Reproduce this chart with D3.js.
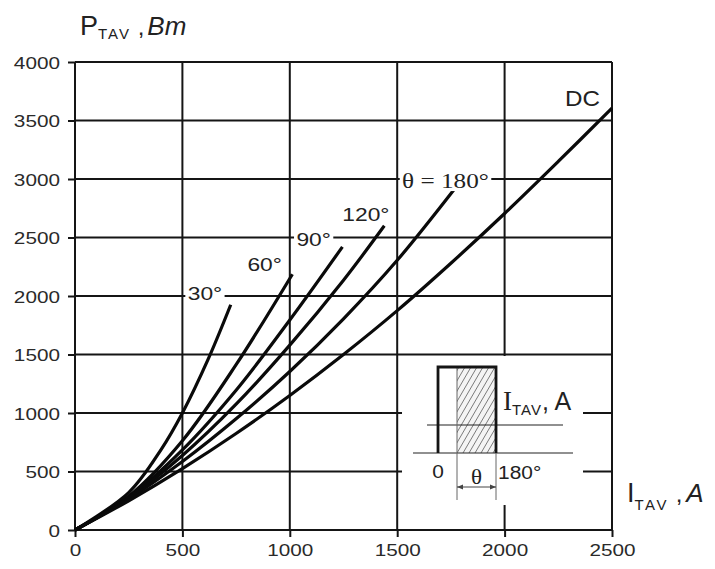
<!DOCTYPE html>
<html><head><meta charset="utf-8">
<script src="https://cdn.jsdelivr.net/npm/d3@7"></script>
<style>html,body{margin:0;padding:0;background:#fff}</style>
</head><body>
<svg id="c" width="715" height="569"></svg>
<script>
// ---- data ----
const xTicks = [0, 500, 1000, 1500, 2000, 2500];
const yTicks = [0, 500, 1000, 1500, 2000, 2500, 3000, 3500, 4000];
const seriesNames = ["30°", "60°", "90°", "120°", "θ = 180°", "DC"];
const curve30  = [[0,0],[250,320],[400,685],[500,1000],[620,1460],[725,1925]];
const curve60  = [[0,0],[250,288],[500,763],[750,1413],[1012,2186]];
const curve90  = [[0,0],[250,280],[500,685],[750,1195],[1000,1795],[1245,2420]];
const curve120 = [[0,0],[250,275],[500,637],[750,1075],[1000,1580],[1250,2135],[1440,2600]];
const curve180 = [[0,0],[250,265],[500,585],[750,950],[1000,1355],[1250,1805],[1500,2305],[1765,2910]];
const curveDC  = [[0,0],[250,250],[500,525],[750,825],[1000,1150],[1250,1500],[1500,1875],[1750,2280],[2000,2705],[2250,3150],[2500,3605]];
const curves = [curve30, curve60, curve90, curve120, curve180, curveDC];

// ---- layout ----
const SX = 1.22; // horizontal stretch of the glyphs in the original
const svg = d3.select("#c");
const x = d3.scaleLinear().domain([0, 2500]).range([75, 612]);
const y = d3.scaleLinear().domain([0, 4000]).range([530, 62]);
const INK = "#151515";

// gridlines
const grid = svg.append("g");
grid.selectAll("line.v").data(xTicks).join("line")
  .attr("x1", d => x(d)).attr("x2", d => x(d)).attr("y1", y(0)).attr("y2", y(4000))
  .attr("stroke", INK).attr("stroke-width", 2);
grid.selectAll("line.h").data(yTicks).join("line")
  .attr("x1", x(0)).attr("x2", x(2500)).attr("y1", d => y(d)).attr("y2", d => y(d))
  .attr("stroke", INK).attr("stroke-width", 2);

// axes
const yAx = svg.append("g").attr("transform", `translate(${x(0)},0)`)
  .call(d3.axisLeft(y).tickValues(yTicks).tickSize(7).tickFormat(d3.format("d")));
const xAx = svg.append("g").attr("transform", `translate(0,${y(0)})`)
  .call(d3.axisBottom(x).tickValues(xTicks).tickSize(7).tickFormat(d3.format("d")));
[yAx, xAx].forEach(g => {
  g.select(".domain").remove();
  g.selectAll(".tick line").attr("stroke", INK).attr("stroke-width", 2);
  g.selectAll(".tick text").attr("fill", "#2a2a2a")
    .style("font-family", "'Liberation Sans', Arial, sans-serif").style("font-size", "17px");
});
yAx.selectAll(".tick text").attr("x", 0).attr("dy", null)
  .attr("transform", `translate(-15,6) scale(${SX},1)`);
xAx.selectAll(".tick text").attr("y", 0).attr("dy", null)
  .attr("transform", `translate(0,26) scale(${SX},1)`);

// inset (white panel + pulse diagram), anchored in data units
const insetAnchor = [1690, 658];
const ix = x(insetAnchor[0]), iy = y(insetAnchor[1]);
const ins = svg.append("g").attr("transform", `translate(${ix},${iy})`);
ins.append("rect").attr("x", -36).attr("y", -97).attr("width", 181).attr("height", 149).attr("fill", "#fff");
const defs = svg.append("defs");
defs.append("clipPath").attr("id", "hclip").append("rect")
  .attr("x", 19).attr("y", -86).attr("width", 39).attr("height", 86);
const hatch = ins.append("g").attr("clip-path", "url(#hclip)");
hatch.append("rect").attr("x", 19).attr("y", -86).attr("width", 39).attr("height", 86).attr("fill", "#f4f4f4");
hatch.selectAll("line").data(d3.range(-10, 28)).join("line")
  .attr("x1", d => 19 + d * 6).attr("y1", 0).attr("x2", d => 19 + d * 6 + 50).attr("y2", -86)
  .attr("stroke", "#7a7a7a").attr("stroke-width", 1);
// thin lines
const thin = (x1, y1, x2, y2, w, c) => ins.append("line").attr("x1", x1).attr("y1", y1).attr("x2", x2).attr("y2", y2)
  .attr("stroke", c || "#333").attr("stroke-width", w || 1);
thin(-11, -28, 125, -28, 1.2, "#222");
thin(-25, 0, 135, 0, 1.2, "#222");
thin(19, -86, 19, 47, 1, "#666");
thin(58, 0, 58, 47, 1, "#666");
thin(19, 34, 58, 34, 1, "#444");
// arrow heads
ins.append("path").attr("d", "M19,34 l6,-2.5 v5 z M58,34 l-6,-2.5 v5 z").attr("fill", "#444");
// pulse outline
ins.append("path").attr("d", "M0,0 V-86 H58 V0").attr("fill", "none").attr("stroke", INK).attr("stroke-width", 2.8);
const insText = (tx, ty, str, size, fam, anchor) => ins.append("text")
  .attr("transform", `translate(${tx},${ty}) scale(1.1,1)`).attr("text-anchor", anchor || "start")
  .style("font-family", fam).style("font-size", size + "px").attr("fill", "#222").text(str);
insText(0, 25, "0", 19, "'Liberation Sans', Arial, sans-serif", "middle");
insText(38.5, 31, "θ", 21, "'Liberation Serif', 'Times New Roman', serif", "middle");
insText(60, 26, "180°", 19, "'Liberation Sans', Arial, sans-serif");
const il = ins.append("text").attr("transform", "translate(65,-43)")
  .style("font-family", "'Liberation Sans', Arial, sans-serif").attr("fill", "#222");
il.append("tspan").style("font-family", "'Liberation Serif', serif").style("font-size", "27px").text("I");
il.append("tspan").style("font-size", "15px").attr("dy", 5).style("letter-spacing", "1px").text("TAV");
il.append("tspan").style("font-size", "25px").attr("dy", -5).text(", A");

// curves
const line = d3.line().x(d => x(d[0])).y(d => y(d[1])).curve(d3.curveCatmullRom.alpha(0.5));
svg.append("g").selectAll("path").data(curves).join("path")
  .attr("d", line).attr("fill", "none").attr("stroke", "#0a0a0a").attr("stroke-width", 3.2);

// curve labels, placed relative to each curve's end point
const labelOffsets = [[-43, -5, true], [-45, -3, false], [-46, -1, true], [-42, -5, false], [-52, -2, true], [-47, -2, false]];
const labG = svg.append("g");
curves.forEach((c, i) => {
  const end = c[c.length - 1];
  const [dx, dy, box] = labelOffsets[i];
  const tx = x(end[0]) + dx, ty = y(end[1]) + dy;
  const serif = i === 4;
  const g = labG.append("g").attr("transform", `translate(${tx},${ty}) scale(${i === 5 ? 1.1 : 1.2},1)`);
  const t = g.append("text")
    .style("font-family", serif ? "'Liberation Serif', 'Times New Roman', serif" : "'Liberation Sans', Arial, sans-serif")
    .style("font-size", (i === 5 ? 22 : serif ? 21 : 19) + "px").attr("fill", "#222").text(seriesNames[i]);
  if (box) {
    const b = t.node().getBBox();
    g.insert("rect", "text").attr("x", b.x - 2).attr("y", b.y + 2).attr("width", b.width + 4).attr("height", b.height - 3).attr("fill", "#fff");
  }
});

// axis titles
const tP = svg.append("text").attr("transform", "translate(80,35)")
  .style("font-family", "'Liberation Sans', Arial, sans-serif").attr("fill", "#222");
tP.append("tspan").style("font-size", "27px").text("P");
tP.append("tspan").style("font-size", "15px").attr("dy", 4).style("letter-spacing", "2px").text("TAV");
tP.append("tspan").style("font-size", "24px").attr("dy", -4).text(" ,");
tP.append("tspan").style("font-size", "26px").style("font-style", "italic").attr("dx", 3).text("Bm");

const tI = svg.append("text").attr("transform", "translate(627,502)")
  .style("font-family", "'Liberation Sans', Arial, sans-serif").attr("fill", "#222");
tI.append("tspan").style("font-size", "27px").text("I");
tI.append("tspan").style("font-size", "15px").attr("dy", 8).style("letter-spacing", "2.5px").text("TAV");
tI.append("tspan").style("font-size", "24px").attr("dy", -8).text(" ,");
tI.append("tspan").style("font-size", "26px").style("font-style", "italic").attr("dx", 4).text("A");
</script>
</body></html>
